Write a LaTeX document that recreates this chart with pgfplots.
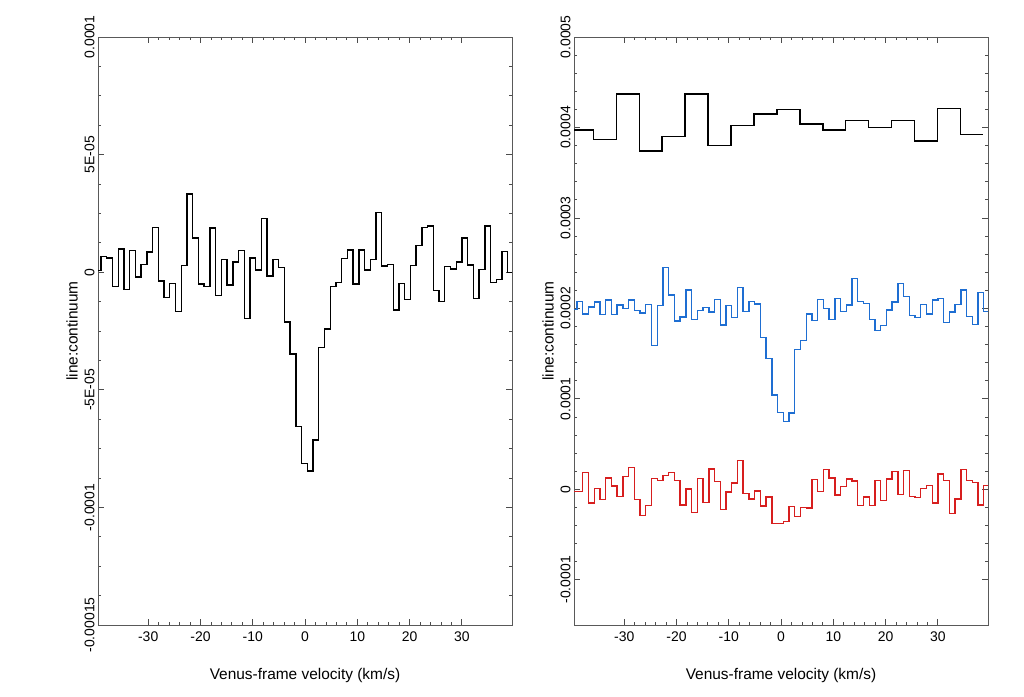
\documentclass[border=0pt]{standalone}
\usepackage{pgfplots}
\pgfplotsset{compat=1.18}
\usepackage{pgfplotstable}
\usepackage{fontspec}
\setmainfont{Liberation Sans}
\definecolor{cblue}{RGB}{30,110,210}
\definecolor{cred}{RGB}{215,30,30}
\pgfplotstableread{
x l b r
-39.6 0.6 198.5 -2.2
-39.02 6.8 207.7 -2.2
-37.92 6.1 194.0 18.8
-36.83 -6.2 201.4 -15.1
-35.73 9.9 206.9 1.1
-34.64 -7.4 193.0 -11.4
-33.54 9.2 209.2 12.5
-32.44 -2.0 193.0 3.7
-31.35 3.3 203.6 -7.7
-30.25 8.6 199.6 14.0
-29.16 19.1 209.2 24.3
-28.06 -3.7 197.7 -11.4
-26.96 -10.8 194.8 -28.7
-25.87 -4.8 204.0 -18.1
-24.77 -16.7 158.7 12.1
-23.68 2.8 202.9 9.9
-22.58 33.2 245.3 15.1
-21.48 14.5 214.7 18.8
-20.39 -5.0 186.0 9.6
-19.29 -6.2 190.4 -17.3
-18.20 18.8 220.2 0.4
-17.10 -9.9 187.4 -25.4
-16.00 5.5 197.4 11.8
-14.91 -5.4 201.1 -14.4
-13.81 4.4 195.9 22.5
-12.72 9.2 209.5 8.8
-11.62 -19.6 181.5 -22.5
-10.52 6.1 203.3 -3.0
-9.43 0.9 190.0 7.0
-8.33 22.8 223.1 32.0
-7.24 -1.7 196.6 -4.4
-6.14 5.5 207.7 -10.7
-5.04 2.0 204.7 -1.9
-3.95 -21.1 167.9 -18.4
-2.85 -34.7 144.3 -8.5
-1.76 -65.5 104.2 -37.9
-0.66 -81.3 85.0 -37.9
0.44 -84.6 75.1 -35.4
1.53 -71.4 84.3 -18.8
2.63 -31.9 154.3 -29.8
3.72 -24.1 164.6 -19.9
4.82 -6.1 193.7 -20.6
5.92 -4.4 186.7 10.7
7.01 5.8 209.9 -2.2
8.11 9.5 199.6 21.7
9.20 -5.1 187.4 12.5
10.30 9.5 210.6 -6.3
11.40 0.9 196.3 3.3
12.49 5.5 203.6 11.4
13.59 25.4 233.1 9.2
14.68 2.6 207.7 -18.1
15.78 3.3 205.1 -8.5
16.88 -16.0 187.8 -18.1
17.97 -4.8 175.6 9.6
19.07 -11.6 181.2 -12.5
20.16 2.8 198.1 11.4
21.26 11.3 206.9 19.5
22.36 19.1 227.6 -5.9
23.45 19.7 212.8 21.0
24.55 -7.9 192.2 -7.7
25.64 -12.5 190.0 -8.8
26.74 2.3 204.0 0.7
27.84 1.3 193.7 4.0
28.93 4.3 209.2 -15.1
30.03 14.6 210.6 16.9
31.12 3.0 184.5 9.9
32.22 -11.2 195.9 -26.9
33.32 1.1 204.4 -10.7
34.41 19.6 220.2 21.7
35.51 -4.4 191.1 9.6
36.60 -3.1 181.9 7.7
37.70 8.8 217.3 -17.3
38.79 -0.1 196.6 4.4
39.6 -0.1 196.6 4.4
}\spec
\pgfplotstableread{
x k
-39.6 397
-35.9 387
-31.51 437
-27.12 374
-22.73 390
-18.34 437
-13.95 380
-9.56 402
-5.17 415
-0.78 420
3.61 404
8.0 397
12.39 408
16.78 400
21.17 408
25.56 385
29.95 421
34.34 392
38.73 392
}\wide
\pgfplotsset{
  myax/.style={
    anchor=south west, scale only axis, width=414bp, height=588bp,
    xmin=-39.6, xmax=39.6, xtick={-30,-20,...,30},
    xticklabels={-30,-20,-10,0,10,20,30}, minor x tick num=4,
    tick align=inside, major tick length=6bp, minor tick length=3bp,
    axis line style={gray!70!black, line width=0.9pt}, tick style={gray!60!black, line width=0.8pt},
    ticklabel style={font=\fontsize{14}{14}\selectfont},
    xticklabel style={yshift=-3bp},
    yticklabel style={rotate=90, anchor=south},
    xlabel={Venus-frame velocity (km/s)}, ylabel={line:continuum},
    label style={font=\fontsize{15.5}{16}\selectfont},
    xlabel style={yshift=-20bp}, ylabel style={yshift=0bp},
    scaled y ticks=false, clip=true,
    every axis plot/.append style={line width=1.4pt, line join=miter},
  }
}
\begin{document}
\begin{tikzpicture}
\path[use as bounding box] (0,0) rectangle (1024bp,697bp);
\begin{axis}[myax, at={(98bp,72bp)}, ymin=-150, ymax=100,
  ytick={-150,-100,-50,0,50,100}, minor y tick num=3,
  yticklabels={-0.00015,-0.0001,-5E-05,0,5E-05,0.0001}]
\addplot[const plot mark left, black] table[x=x,y=l]{\spec};
\end{axis}
\begin{axis}[myax, at={(574bp,72bp)}, ymin=-150, ymax=500,
  ytick={-100,0,100,200,300,400,500}, minor y tick num=4,
  yticklabels={-0.0001,0,0.0001,0.0002,0.0003,0.0004,0.0005}]
\addplot[const plot mark left, black] table[x=x,y=k]{\wide};
\addplot[const plot mark left, cblue] table[x=x,y=b]{\spec};
\addplot[const plot mark left, cred] table[x=x,y=r]{\spec};
\end{axis}
\end{tikzpicture}
\end{document}
